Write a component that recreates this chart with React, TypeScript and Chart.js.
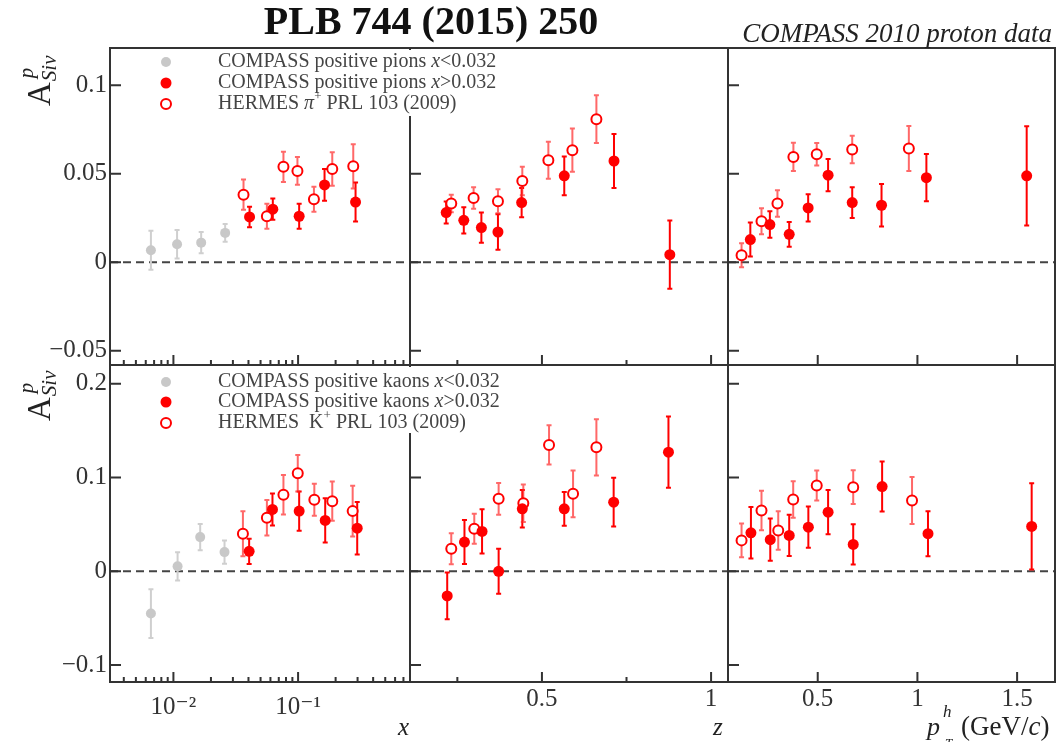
import React, { useEffect, useRef } from 'react';
import { Chart, registerables } from 'chart.js';

Chart.register(...registerables);

const SERIF = '"Liberation Serif", "DejaVu Serif", serif';

// ---------- axis ranges & tick values ----------
const xLogRange = [0.0031, 0.79];
const zRange = [0.11, 1.05];
const ptRange = [0.05, 1.69];
const pionYRange = [-0.058, 0.121];
const kaonYRange = [-0.118, 0.22];

const xLogMajor = [0.01, 0.1];
const xLogLabels = ['10⁻²', '10⁻¹'];
const xLogMinor = [0.004, 0.005, 0.006, 0.007, 0.008, 0.009, 0.02, 0.03, 0.04, 0.05, 0.06, 0.07, 0.08, 0.09, 0.2, 0.3, 0.4, 0.5, 0.6, 0.7];
const zMajor = [0.5, 1];
const zLabels = ['0.5', '1'];
const zMinor = [0.25, 0.75];
const ptMajor = [0.5, 1, 1.5];
const ptLabels = ['0.5', '1', '1.5'];
const ptMinor: number[] = [];
const pionYTicks = [-0.05, 0, 0.05, 0.1];
const pionYLabels = ['−0.05', '0', '0.05', '0.1'];
const kaonYTicks = [-0.1, 0, 0.1, 0.2];
const kaonYLabels = ['−0.1', '0', '0.1', '0.2'];

// ---------- PIONS vs x ----------
const piXLowX = [0.0066, 0.0107, 0.0167, 0.026];
const piXLowA = [0.0068, 0.0102, 0.0111, 0.0166];
const piXLowE = [0.011, 0.008, 0.006, 0.005];
const piXHighX = [0.0408, 0.0627, 0.102, 0.163, 0.289];
const piXHighA = [0.0256, 0.03, 0.026, 0.0437, 0.034];
const piXHighE = [0.0058, 0.006, 0.007, 0.009, 0.011];
const piXHermesX = [0.0365, 0.0562, 0.0763, 0.0988, 0.134, 0.188, 0.277];
const piXHermesA = [0.0382, 0.026, 0.0539, 0.0516, 0.0356, 0.0527, 0.0542];
const piXHermesE = [0.0085, 0.007, 0.0085, 0.0078, 0.007, 0.0095, 0.0125];

// ---------- PIONS vs z ----------
const piZHighX = [0.217, 0.269, 0.321, 0.37, 0.44, 0.566, 0.713, 0.878];
const piZHighA = [0.0281, 0.0237, 0.0196, 0.0171, 0.0337, 0.0488, 0.0572, 0.0043];
const piZHighE = [0.0062, 0.0074, 0.0085, 0.01, 0.0083, 0.011, 0.0152, 0.0193];
const piZHermesX = [0.232, 0.298, 0.37, 0.442, 0.519, 0.59, 0.661];
const piZHermesA = [0.0332, 0.0363, 0.0345, 0.0459, 0.0576, 0.0633, 0.0808];
const piZHermesE = [0.005, 0.006, 0.0068, 0.008, 0.0105, 0.0122, 0.0135];

// ---------- PIONS vs pT ----------
const piPHighX = [0.162, 0.26, 0.357, 0.452, 0.552, 0.673, 0.82, 1.045, 1.548];
const piPHighA = [0.0128, 0.0213, 0.0158, 0.0307, 0.0492, 0.0337, 0.0322, 0.0478, 0.0488];
const piPHighE = [0.0096, 0.0075, 0.007, 0.0077, 0.0091, 0.0087, 0.012, 0.0134, 0.028];
const piPHermesX = [0.118, 0.218, 0.298, 0.378, 0.495, 0.673, 0.957];
const piPHermesA = [0.004, 0.0232, 0.0332, 0.0595, 0.061, 0.0637, 0.0642];
const piPHermesE = [0.0068, 0.0073, 0.0075, 0.008, 0.0063, 0.0078, 0.0127];

// ---------- KAONS vs x ----------
const kXLowX = [0.0066, 0.0108, 0.0164, 0.0257];
const kXLowA = [-0.045, 0.0053, 0.0365, 0.0205];
const kXLowE = [0.026, 0.015, 0.014, 0.0125];
const kXHighX = [0.0405, 0.0623, 0.102, 0.165, 0.298];
const kXHighA = [0.0213, 0.066, 0.0642, 0.0543, 0.046];
const kXHighE = [0.0135, 0.017, 0.021, 0.0236, 0.028];
const kXHermesX = [0.0361, 0.0562, 0.0763, 0.0994, 0.135, 0.188, 0.274];
const kXHermesA = [0.0401, 0.0571, 0.0816, 0.1046, 0.0763, 0.0748, 0.0642];
const kXHermesE = [0.024, 0.019, 0.021, 0.0195, 0.017, 0.021, 0.027];

// ---------- KAONS vs z ----------
const kZHighX = [0.22, 0.271, 0.323, 0.372, 0.442, 0.566, 0.712, 0.874];
const kZHighA = [-0.0262, 0.0312, 0.0426, 0.0, 0.0667, 0.0667, 0.0737, 0.127];
const kZHighE = [0.025, 0.0235, 0.0235, 0.024, 0.02, 0.018, 0.026, 0.038];
const kZHermesX = [0.232, 0.3, 0.372, 0.445, 0.521, 0.592, 0.661];
const kZHermesA = [0.0241, 0.0454, 0.0773, 0.0727, 0.1348, 0.0826, 0.1322];
const kZHermesE = [0.0165, 0.016, 0.017, 0.02, 0.021, 0.025, 0.03];

// ---------- KAONS vs pT ----------
const kPHighX = [0.165, 0.262, 0.357, 0.453, 0.552, 0.678, 0.823, 1.053, 1.573];
const kPHighA = [0.0411, 0.0337, 0.0383, 0.0471, 0.0631, 0.0287, 0.0904, 0.0401, 0.0479];
const kPHighE = [0.0275, 0.0225, 0.022, 0.022, 0.0235, 0.0215, 0.0266, 0.024, 0.046];
const kPHermesX = [0.118, 0.218, 0.302, 0.377, 0.495, 0.678, 0.973];
const kPHermesA = [0.033, 0.0649, 0.0436, 0.0766, 0.0915, 0.0897, 0.0755];
const kPHermesE = [0.018, 0.021, 0.0205, 0.0195, 0.016, 0.018, 0.025];

// ---------- layout ----------
const W = 1062;
const H = 742;
const colEdges = [110, 410, 728, 1055];
const rowEdges = [48, 365, 682];

type Kind = 'gray' | 'filled' | 'open';
type Series = { kind: Kind; x: number[]; y: number[]; e: number[] };
type PanelCfg = { row: number; col: number; series: Series[] };

const panels: PanelCfg[] = [
  { row: 0, col: 2, series: [
    { kind: 'filled', x: piPHighX, y: piPHighA, e: piPHighE },
    { kind: 'open', x: piPHermesX, y: piPHermesA, e: piPHermesE },
  ] },
  { row: 1, col: 2, series: [
    { kind: 'filled', x: kPHighX, y: kPHighA, e: kPHighE },
    { kind: 'open', x: kPHermesX, y: kPHermesA, e: kPHermesE },
  ] },
  { row: 0, col: 1, series: [
    { kind: 'filled', x: piZHighX, y: piZHighA, e: piZHighE },
    { kind: 'open', x: piZHermesX, y: piZHermesA, e: piZHermesE },
  ] },
  { row: 1, col: 1, series: [
    { kind: 'filled', x: kZHighX, y: kZHighA, e: kZHighE },
    { kind: 'open', x: kZHermesX, y: kZHermesA, e: kZHermesE },
  ] },
  { row: 0, col: 0, series: [
    { kind: 'filled', x: piXHighX, y: piXHighA, e: piXHighE },
    { kind: 'gray', x: piXLowX, y: piXLowA, e: piXLowE },
    { kind: 'open', x: piXHermesX, y: piXHermesA, e: piXHermesE },
  ] },
  { row: 1, col: 0, series: [
    { kind: 'filled', x: kXHighX, y: kXHighA, e: kXHighE },
    { kind: 'gray', x: kXLowX, y: kXLowA, e: kXLowE },
    { kind: 'open', x: kXHermesX, y: kXHermesA, e: kXHermesE },
  ] },
];

const RED = '#ff0000';
const GRAY = '#c8c8c8';
const INK = '#333333';

type Run = { t: string; font: string; dx?: number; dy?: number; adv?: boolean };
function drawRuns(ctx: CanvasRenderingContext2D, runs: Run[], x: number, y: number) {
  let cx = x;
  for (const r of runs) {
    ctx.font = r.font;
    const px = cx + (r.dx || 0);
    ctx.fillText(r.t, px, y + (r.dy || 0));
    if (r.adv !== false) cx = px + ctx.measureText(r.t).width;
  }
}

function marker(ctx: CanvasRenderingContext2D, kind: Kind, x: number, y: number) {
  ctx.save();
  ctx.beginPath();
  if (kind === 'open') {
    ctx.arc(x, y, 5, 0, Math.PI * 2);
    ctx.fillStyle = '#fff';
    ctx.fill();
    ctx.lineWidth = 2;
    ctx.strokeStyle = RED;
    ctx.stroke();
  } else {
    ctx.arc(x, y, kind === 'gray' ? 5 : 5.5, 0, Math.PI * 2);
    ctx.fillStyle = kind === 'gray' ? GRAY : RED;
    ctx.fill();
  }
  ctx.restore();
}

function Panel({ cfg }: { cfg: PanelCfg }) {
  const ref = useRef<HTMLCanvasElement | null>(null);
  useEffect(() => {
    const { row, col, series } = cfg;
    const xr = [xLogRange, zRange, ptRange][col];
    const xMaj = [xLogMajor, zMajor, ptMajor][col];
    const xLab = [xLogLabels, zLabels, ptLabels][col];
    const xMin = [xLogMinor, zMinor, ptMinor][col];
    const yr = row === 0 ? pionYRange : kaonYRange;
    const yT = row === 0 ? pionYTicks : kaonYTicks;
    const yL = row === 0 ? pionYLabels : kaonYLabels;
    const yAxisW = col === 0 ? colEdges[0] : 0;
    const xAxisH = row === 1 ? H - rowEdges[2] : 0;

    const plugin = {
      id: 'panelDeco' + row + col,
      beforeDatasetsDraw(chart: any) {
        const { ctx, chartArea: a, scales } = chart;
        const xs = scales.x;
        const ys = scales.y;
        // dashed zero line
        const y0 = ys.getPixelForValue(0);
        ctx.save();
        ctx.strokeStyle = '#444';
        ctx.lineWidth = 2;
        ctx.setLineDash([8, 5]);
        ctx.beginPath();
        ctx.moveTo(a.left, y0);
        ctx.lineTo(a.right, y0);
        ctx.stroke();
        ctx.restore();
        // error bars
        ctx.save();
        ctx.beginPath();
        ctx.rect(a.left, a.top, a.right - a.left, a.bottom - a.top);
        ctx.clip();
        for (const s of series) {
          ctx.strokeStyle = s.kind === 'gray' ? '#cfcfcf' : s.kind === 'open' ? 'rgba(255,40,40,0.7)' : RED;
          ctx.lineWidth = 2;
          for (let i = 0; i < s.x.length; i++) {
            const px = xs.getPixelForValue(s.x[i]);
            const p1 = ys.getPixelForValue(s.y[i] + s.e[i]);
            const p2 = ys.getPixelForValue(s.y[i] - s.e[i]);
            ctx.beginPath();
            ctx.moveTo(px, p1);
            ctx.lineTo(px, p2);
            ctx.moveTo(px - 2.5, p1);
            ctx.lineTo(px + 2.5, p1);
            ctx.moveTo(px - 2.5, p2);
            ctx.lineTo(px + 2.5, p2);
            ctx.stroke();
          }
        }
        ctx.restore();
      },
      afterDatasetsDraw(chart: any) {
        const { ctx, chartArea: a, scales } = chart;
        const xs = scales.x;
        const ys = scales.y;
        ctx.save();
        ctx.strokeStyle = INK;
        ctx.lineWidth = 2;
        ctx.beginPath();
        for (const v of xMaj) {
          const px = xs.getPixelForValue(v);
          ctx.moveTo(px, a.bottom);
          ctx.lineTo(px, a.bottom - 10);
        }
        for (const v of xMin) {
          const px = xs.getPixelForValue(v);
          ctx.moveTo(px, a.bottom);
          ctx.lineTo(px, a.bottom - 5);
        }
        for (const v of yT) {
          const py = ys.getPixelForValue(v);
          ctx.moveTo(a.left, py);
          ctx.lineTo(a.left + 11, py);
        }
        ctx.stroke();
        ctx.strokeRect(a.left, a.top, a.right - a.left, a.bottom - a.top);
        ctx.restore();
      },
      afterDraw(chart: any) {
        const { ctx } = chart;
        ctx.save();
        ctx.fillStyle = '#222';
        ctx.textBaseline = 'alphabetic';
        if (col === 0) {
          // legend
          const top = row === 0 ? 50 : 367;
          ctx.fillStyle = '#fff';
          ctx.fillRect(142, top, 363, 66);
          const rows = row === 0 ? [62, 83, 104] : [382, 402, 423];
          const f = `20px ${SERIF}`;
          const fi = `italic 20px ${SERIF}`;
          const fs = `13px ${SERIF}`;
          const part = row === 0 ? 'pions' : 'kaons';
          const texts: Run[][] = [
            [{ t: `COMPASS positive ${part} `, font: f }, { t: 'x', font: fi }, { t: '<0.032', font: f }],
            [{ t: `COMPASS positive ${part} `, font: f }, { t: 'x', font: fi }, { t: '>0.032', font: f }],
            row === 0
              ? [{ t: 'HERMES ', font: f }, { t: 'π', font: fi }, { t: '+', font: fs, dy: -7 }, { t: ' PRL 103 (2009)', font: f }]
              : [{ t: 'HERMES  K', font: f }, { t: '+', font: fs, dy: -7 }, { t: ' PRL 103 (2009)', font: f }],
          ];
          const kinds: Kind[] = ['gray', 'filled', 'open'];
          ctx.textBaseline = 'middle';
          for (let i = 0; i < 3; i++) {
            marker(ctx, kinds[i], 166, rows[i]);
            ctx.fillStyle = '#444';
            drawRuns(ctx, texts[i], 218, rows[i]);
          }
          // y axis title (rotated)
          ctx.save();
          ctx.textBaseline = 'alphabetic';
          ctx.fillStyle = '#222';
          ctx.translate(50, row === 0 ? 106 : 421);
          ctx.rotate(-Math.PI / 2);
          ctx.font = `33px ${SERIF}`;
          ctx.fillText('A', 0, 0);
          const wA = ctx.measureText('A').width;
          ctx.font = `italic 21px ${SERIF}`;
          ctx.fillText('Siv', wA + 1, 6);
          ctx.fillText('p', wA + 4, -17);
          ctx.restore();
        }
        ctx.textBaseline = 'alphabetic';
        ctx.fillStyle = '#222';
        if (row === 0 && col === 0) {
          ctx.font = `bold 40px ${SERIF}`;
          ctx.textAlign = 'center';
          ctx.fillStyle = '#111';
          ctx.fillText('PLB 744 (2015) 250', 431, 34);
          ctx.textAlign = 'right';
          ctx.fillStyle = '#222';
          ctx.font = `italic 27px ${SERIF}`;
          ctx.fillText('COMPASS 2010 proton data', 1052, 42);
          ctx.textAlign = 'left';
        }
        if (row === 1) {
          if (col === 0) {
            ctx.font = `italic 25px ${SERIF}`;
            ctx.fillText('x', 398, 735);
          } else if (col === 1) {
            ctx.font = `italic 25px ${SERIF}`;
            ctx.fillText('z', 713, 735);
          } else {
            drawRuns(ctx, [
              { t: 'p', font: `italic 26px ${SERIF}` },
              { t: 'h', font: `italic 17px ${SERIF}`, dx: 3, dy: -18, adv: false },
              { t: 'T', font: `italic 13px ${SERIF}`, dx: 5, dy: 12 },
              { t: ' (GeV/', font: `27px ${SERIF}`, dx: 2 },
              { t: 'c', font: `italic 27px ${SERIF}` },
              { t: ')', font: `27px ${SERIF}` },
            ], 927, 735);
          }
        }
        ctx.restore();
      },
    };

    const tickFont = { family: SERIF, size: 25 };
    const chart = new Chart(ref.current as HTMLCanvasElement, {
      type: 'scatter',
      data: {
        datasets: series.map((s) => ({
          data: s.x.map((x, i) => ({ x, y: s.y[i] })),
          pointRadius: s.kind === 'filled' ? 5.5 : 5,
          pointHoverRadius: s.kind === 'filled' ? 5.5 : 5,
          pointBackgroundColor: s.kind === 'open' ? '#ffffff' : s.kind === 'gray' ? GRAY : RED,
          pointBorderColor: s.kind === 'gray' ? GRAY : RED,
          pointBorderWidth: s.kind === 'open' ? 2 : 0,
          showLine: false,
        })),
      },
      options: {
        responsive: false,
        animation: false,
        devicePixelRatio: 1,
        events: [],
        layout: {
          autoPadding: false,
          padding: {
            left: colEdges[col] - yAxisW,
            right: W - colEdges[col + 1],
            top: rowEdges[row],
            bottom: H - rowEdges[row + 1] - xAxisH,
          },
        },
        plugins: { legend: { display: false }, title: { display: false }, tooltip: { enabled: false } },
        scales: {
          x: {
            type: col === 0 ? 'logarithmic' : 'linear',
            min: xr[0],
            max: xr[1],
            display: row === 1,
            grid: { display: false, drawTicks: false },
            border: { display: false },
            ticks: {
              font: tickFont,
              color: INK,
              padding: col === 0 ? 10 : 2,
              autoSkip: false,
              maxRotation: 0,
              callback: (_v: any, i: number) => xLab[i],
            },
            afterBuildTicks: (s: any) => {
              s.ticks = xMaj.map((v) => ({ value: v }));
            },
            afterFit: (s: any) => {
              s.height = xAxisH;
            },
          },
          y: {
            type: 'linear',
            min: yr[0],
            max: yr[1],
            display: col === 0,
            grid: { display: false, drawTicks: false },
            border: { display: false },
            ticks: {
              font: tickFont,
              color: INK,
              padding: 3,
              autoSkip: false,
              callback: (_v: any, i: number) => yL[i],
            },
            afterBuildTicks: (s: any) => {
              s.ticks = yT.map((v) => ({ value: v }));
            },
            afterFit: (s: any) => {
              s.width = yAxisW;
            },
          },
        },
      } as any,
      plugins: [plugin],
    });
    return () => chart.destroy();
  }, [cfg]);
  return (
    <canvas
      ref={ref}
      width={W}
      height={H}
      style={{ position: 'absolute', left: 0, top: 0, width: W, height: H }}
    />
  );
}

export default function App() {
  return (
    <div style={{ position: 'fixed', left: 0, top: 0, width: W, height: H, background: '#fff', overflow: 'hidden' }}>
      {panels.map((p) => (
        <Panel key={`${p.row}-${p.col}`} cfg={p} />
      ))}
    </div>
  );
}
